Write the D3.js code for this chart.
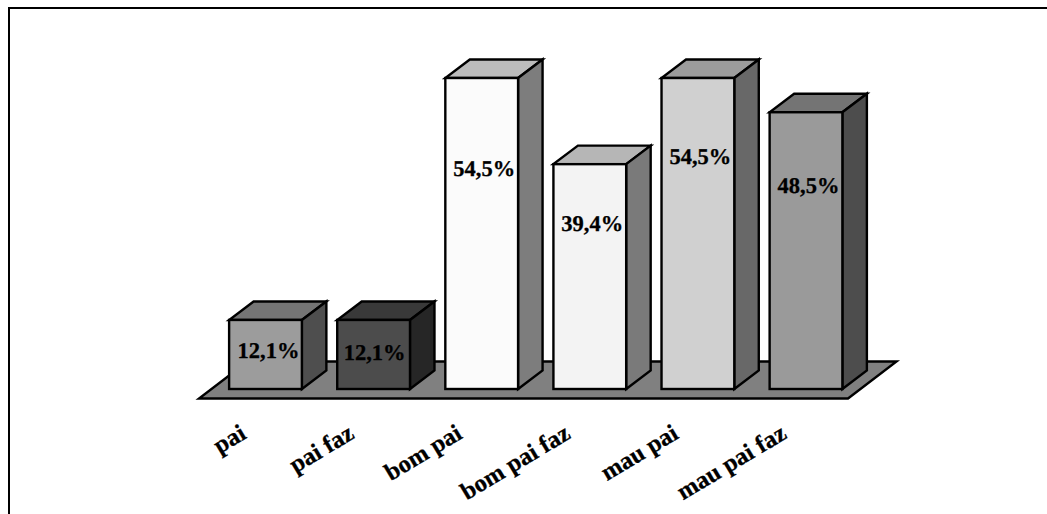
<!DOCTYPE html>
<html>
<head>
<meta charset="utf-8">
<script src="https://cdn.jsdelivr.net/npm/d3@7/dist/d3.min.js"></script>
<style>
html, body { margin: 0; padding: 0; background: #fff; overflow: hidden; }
svg { display: block; }
text { font-family: "Liberation Serif", serif; font-weight: bold; fill: #000; stroke: #000; stroke-width: 0.3px; text-rendering: geometricPrecision; }
</style>
</head>
<body>
<svg id="chart" width="1047" height="514"></svg>
<script>
const categories = ["pai", "pai faz", "bom pai", "bom pai faz", "mau pai", "mau pai faz"];
const values = [12.1, 12.1, 54.5, 39.4, 54.5, 48.5];
const valueLabels = ["12,1%", "12,1%", "54,5%", "39,4%", "54,5%", "48,5%"];
const frontColors = ["#9c9c9c", "#4c4c4c", "#fbfbfb", "#f3f3f3", "#d0d0d0", "#9a9a9a"];
const topColors = ["#757575", "#393939", "#bcbcbc", "#b6b6b6", "#9c9c9c", "#747474"];
const sideColors = ["#4e4e4e", "#262626", "#7d7d7d", "#7a7a7a", "#686868", "#4d4d4d"];

// Hand-placed label offsets: baseline below each bar's top edge, and sideways shift.
const labelDrop = [38, 40, 98, 67, 86, 81];
const labelShift = [3, 1, 2.5, 2.5, 2.5, 2.5];

const svg = d3.select("#chart");

// Oblique projection of the chart box: depth runs up and to the right.
const depthX = 24.5, depthY = -18.5;
const baseY = 389;

const x = d3.scaleBand()
  .domain(categories)
  .range([211.5, 860])
  .paddingInner(0.327)
  .paddingOuter(0.163);

const y = d3.scaleLinear().domain([0, 54.5]).range([baseY, 78]);

// Page rule along the top and down the left side.
svg.append("path")
  .attr("d", d3.line()([[9, 514], [9, 8], [1047, 8]]))
  .attr("fill", "none")
  .attr("stroke", "#000")
  .attr("stroke-width", 2);

// Floor plane under the bars.
const floorLeft = 199, floorRight = 848, floorFront = 398.5, floorBack = 361.5;
svg.append("polygon")
  .attr("points", [
    [floorLeft, floorFront], [floorRight, floorFront],
    [floorRight + 48.5, floorBack], [floorLeft + 48.5, floorBack]
  ].join(" "))
  .attr("fill", "#808080")
  .attr("stroke", "#000")
  .attr("stroke-width", 2.4)
  .attr("stroke-linejoin", "miter");

const bars = svg.append("g").selectAll("g")
  .data(categories.map((name, i) => ({ name, i, value: values[i] })))
  .join("g");

const faceStyle = sel => sel
  .attr("stroke", "#000")
  .attr("stroke-width", 2.4)
  .attr("stroke-linejoin", "miter");

// Top face
bars.append("polygon")
  .attr("points", d => {
    const l = x(d.name), r = l + x.bandwidth(), t = y(d.value);
    return [[l, t], [r, t], [r + depthX, t + depthY], [l + depthX, t + depthY]].join(" ");
  })
  .attr("fill", d => topColors[d.i])
  .call(faceStyle);

// Side face
bars.append("polygon")
  .attr("points", d => {
    const r = x(d.name) + x.bandwidth(), t = y(d.value);
    return [[r, t], [r + depthX, t + depthY], [r + depthX, baseY + depthY], [r, baseY]].join(" ");
  })
  .attr("fill", d => sideColors[d.i])
  .call(faceStyle);

// Front face
bars.append("rect")
  .attr("x", d => x(d.name))
  .attr("y", d => y(d.value))
  .attr("width", x.bandwidth())
  .attr("height", d => baseY - y(d.value))
  .attr("fill", d => frontColors[d.i])
  .call(faceStyle);

// Value labels sit slightly right of the front face's centre.
bars.append("text")
  .attr("x", d => x(d.name) + x.bandwidth() / 2 + labelShift[d.i])
  .attr("y", d => y(d.value) + labelDrop[d.i])
  .attr("text-anchor", "middle")
  .attr("font-size", 22.5)
  .text(d => valueLabels[d.i]);

// Slanted category labels ending under each bar.
svg.append("g").selectAll("text")
  .data(categories)
  .join("text")
  .attr("text-anchor", "end")
  .attr("font-size", 24.5)
  .attr("transform", d => `translate(${x(d) + x.bandwidth() / 2 - 18},${437.5}) rotate(-31)`)
  .text(d => d);
</script>
</body>
</html>
